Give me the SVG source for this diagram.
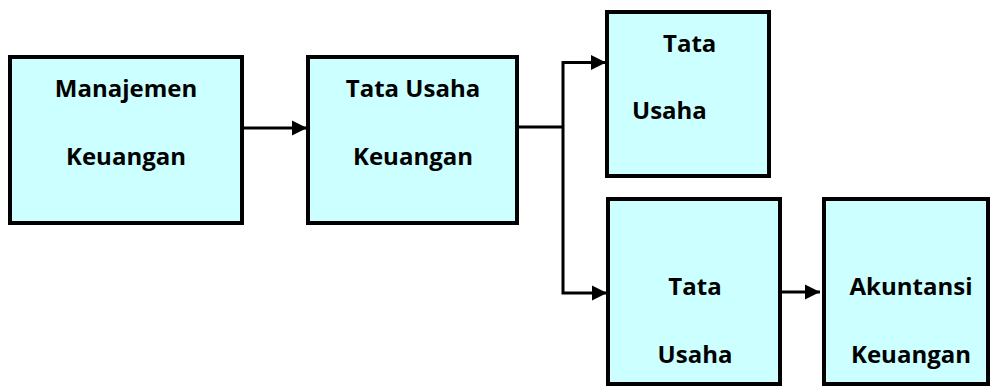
<svg xmlns="http://www.w3.org/2000/svg" width="990" height="386" viewBox="0 0 990 386">
<style>
.box{fill:#CCFFFF;stroke:#000;stroke-width:4}
.t{font-family:"Open Sans","Liberation Sans",sans-serif;font-weight:bold;font-size:24px;fill:#000}
.c{text-anchor:middle}
.ln{fill:none;stroke:#000;stroke-width:3}
</style>
<defs>
<marker id="ah" markerUnits="userSpaceOnUse" markerWidth="16" markerHeight="16" viewBox="0 0 16 16" refX="15" refY="8" orient="auto">
<path d="M0,0.5 L15,8 L0,15.5 Z" fill="#000"/>
</marker>
</defs>
<g id="connectors">
<line class="ln" x1="242" y1="128" x2="307" y2="128" marker-end="url(#ah)"/>
<polyline class="ln" points="517,127 563,127"/>
<polyline class="ln" points="563,127 563,62.5 606,62.5" marker-end="url(#ah)"/>
<polyline class="ln" points="563,127 563,293 607,293" marker-end="url(#ah)"/>
<line class="ln" x1="780" y1="292" x2="820" y2="292" marker-end="url(#ah)"/>
</g>
<g id="node-manajemen">
<rect class="box" x="10" y="57" width="232" height="166"/>
<text class="t c" x="126" y="97">Manajemen</text>
<text class="t c" x="126" y="165">Keuangan</text>
</g>
<g id="node-tata-usaha-keuangan">
<rect class="box" x="308" y="57" width="209" height="166"/>
<text class="t c" x="413" y="97">Tata Usaha</text>
<text class="t c" x="413" y="165">Keuangan</text>
</g>
<g id="node-tata-usaha-1">
<rect class="box" x="607" y="12" width="162" height="164"/>
<text class="t" x="663" y="52">Tata</text>
<text class="t" x="632" y="119">Usaha</text>
</g>
<g id="node-tata-usaha-2">
<rect class="box" x="608" y="199" width="172" height="185"/>
<text class="t c" x="695" y="295">Tata</text>
<text class="t c" x="695" y="363">Usaha</text>
</g>
<g id="node-akuntansi">
<rect class="box" x="824" y="199" width="164" height="185"/>
<text class="t c" x="911" y="295">Akuntansi</text>
<text class="t c" x="911" y="363">Keuangan</text>
</g>
</svg>
